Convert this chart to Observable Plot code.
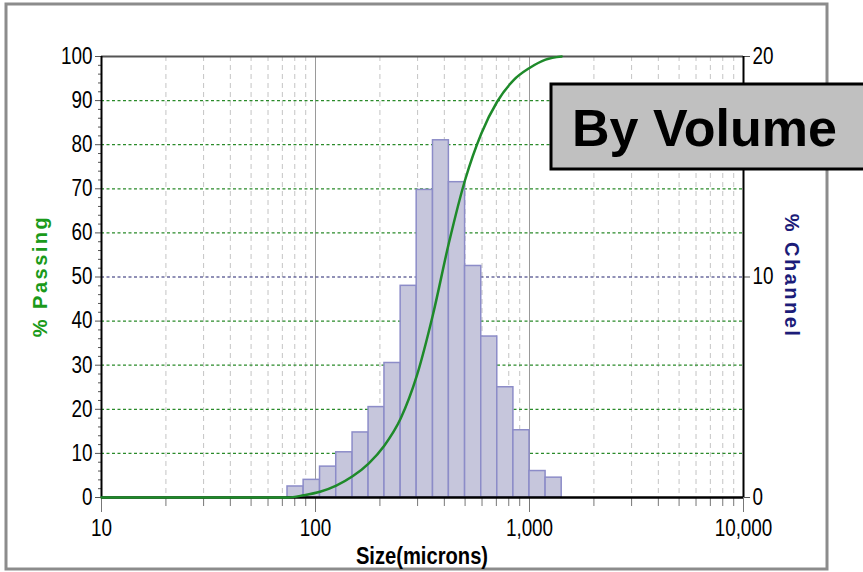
<!DOCTYPE html>
<html>
<head>
<meta charset="utf-8">
<script src="https://cdn.jsdelivr.net/npm/d3@7"></script>
<script src="https://cdn.jsdelivr.net/npm/@observablehq/plot@0.6"></script>
<style>
  html, body { margin: 0; padding: 0; background: #fff; }
  #chart { width: 863px; height: 572px; }
</style>
</head>
<body>
<div id="chart"></div>
<script>
// ---- data ----
// sieve-style bin edges (microns), ratio ~2^(1/4)
const binEdges = [74, 88, 105, 125, 149, 177, 210, 250, 297, 354, 420, 500, 595, 707, 841, 1000, 1189, 1414];
// % in each channel (right axis, 0–20)
const channelPct = [0.5, 0.8, 1.4, 2.05, 2.95, 4.1, 6.1, 9.6, 13.95, 16.2, 14.3, 10.5, 7.3, 5.0, 3.05, 1.2, 0.9];
// cumulative % passing curve (left axis)
const curveSizes = [10, 74, 88, 105, 125, 149, 177, 210, 250, 297, 354, 420, 500, 595, 707, 841, 1000, 1189, 1414];
const passingPct = [0, 0, 0.5, 1.3, 2.7, 4.8, 7.7, 11.8, 17.9, 27.5, 41.5, 57.7, 72.0, 82.5, 89.8, 94.6, 97.4, 99.3, 100];
// ticks
const xMajorTicks = [10, 100, 1000, 10000];
const xMinorTicks = [20, 30, 40, 50, 60, 70, 80, 90, 200, 300, 400, 500, 600, 700, 800, 900, 2000, 3000, 4000, 5000, 6000, 7000, 8000, 9000];
const leftTicks = [0, 10, 20, 30, 40, 50, 60, 70, 80, 90, 100];
const rightTicks = [0, 10, 20];
const greenGrid = [10, 20, 30, 40, 60, 70, 80, 90];
const blueGrid = [50];

const RIGHT_MAX = 20, LEFT_MAX = 100;
const toLeft = v => v * LEFT_MAX / RIGHT_MAX;

const bars = channelPct.map((v, i) => ({x1: binEdges[i], x2: binEdges[i + 1], y: toLeft(v)}));
const curve = curveSizes.map((s, i) => ({x: s, y: passingPct[i]}));

const fnt = "'Liberation Sans', Arial, sans-serif";

const plot = Plot.plot({
  width: 863,
  height: 572,
  marginLeft: 101,
  marginRight: 120,
  marginTop: 56,
  marginBottom: 75,
  style: {fontFamily: fnt, fontSize: "23px", background: "transparent", color: "#000"},
  x: {type: "log", domain: [10, 10000], axis: null},
  y: {domain: [0, 100], axis: null},
  marks: [
    Plot.ruleX(xMinorTicks, {stroke: "#c4c4c4", strokeDasharray: "5,4", strokeWidth: 1}),
    Plot.ruleX([100, 1000], {stroke: "#9a9a9a", strokeWidth: 1}),
    Plot.ruleY(greenGrid, {stroke: "#2a8a2a", strokeDasharray: "3,2.5", strokeWidth: 1.2}),
    Plot.ruleY(blueGrid, {stroke: "#22226e", strokeDasharray: "3,2.5", strokeWidth: 1.2}),
    Plot.ruleY([100], {stroke: "#555", strokeWidth: 2}),
    Plot.rectY(bars, {x1: "x1", x2: "x2", y: "y", fill: "#c6c6dc", stroke: "#8c8cc8", strokeWidth: 1.5}),
    // axes
    Plot.axisX(xMinorTicks, {anchor: "bottom", tickSize: 9, text: null, stroke: "#777", label: null}),
    Plot.axisX(xMajorTicks, {anchor: "bottom", tickSize: 15, tickPadding: 7, tickFormat: d3.format(","), stroke: "#777", fontSize: 23, label: null}),
    Plot.axisY(d3.range(2, 100, 2).filter(d => d % 10 !== 0), {anchor: "left", tickSize: 3, text: null, stroke: "#555", label: null}),
    Plot.axisY(leftTicks, {anchor: "left", tickSize: 6, tickPadding: 3, stroke: "#555", fontSize: 23, label: null}),
    Plot.axisY(rightTicks.map(toLeft), {anchor: "right", tickSize: 6, tickPadding: 3, tickFormat: d => d * RIGHT_MAX / LEFT_MAX, stroke: "#555", fontSize: 23, label: null}),
    Plot.ruleX([10], {stroke: "#000", strokeWidth: 2}),
    Plot.ruleX([10000], {stroke: "#000", strokeWidth: 2}),
    Plot.ruleY([0], {stroke: "#000", strokeWidth: 2.5}),
    Plot.line(curve, {x: "x", y: "y", stroke: "#1e8a2a", strokeWidth: 2.5, curve: "monotone-x"})
  ]
});

document.getElementById("chart").appendChild(plot);

const svg = d3.select(plot);

// narrow a text (reference uses a condensed face) while keeping its anchor/position
function narrow(el, k) {
  const w = el.getComputedTextLength();
  if (w > 0) {
    el.setAttribute("textLength", (w * k).toFixed(2));
    el.setAttribute("lengthAdjust", "spacingAndGlyphs");
  }
}
svg.selectAll('g[aria-label$="tick label"] text').each(function () { narrow(this, 0.82); });

// outer frame
svg.insert("rect", ":first-child")
  .attr("x", 6).attr("y", 4).attr("width", 821).attr("height", 565)
  .attr("fill", "#fff").attr("stroke", "#8c8c8c").attr("stroke-width", 3);

// axis titles
svg.append("text")
  .attr("transform", "translate(47,276) rotate(-90)")
  .attr("text-anchor", "middle")
  .attr("font-family", fnt)
  .attr("font-weight", "bold").attr("font-size", 20).attr("letter-spacing", 2.5)
  .attr("fill", "#1a9a1a")
  .text("% Passing");
svg.append("text")
  .attr("transform", "translate(785,276) rotate(90)")
  .attr("text-anchor", "middle")
  .attr("font-family", fnt)
  .attr("font-weight", "bold").attr("font-size", 20).attr("letter-spacing", 2.5)
  .attr("fill", "#1c1c78")
  .text("% Channel");
const sz = svg.append("text")
  .attr("x", 422).attr("y", 564)
  .attr("text-anchor", "middle")
  .attr("font-family", fnt)
  .attr("font-weight", "bold").attr("font-size", 24)
  .attr("fill", "#000")
  .text("Size(microns)");
narrow(sz.node(), 0.84);

// "By Volume" label box
svg.append("rect")
  .attr("x", 551).attr("y", 84).attr("width", 330).attr("height", 85)
  .attr("fill", "#c0c0c0").attr("stroke", "#000").attr("stroke-width", 3);
svg.append("text")
  .attr("x", 572).attr("y", 146)
  .attr("text-anchor", "start")
  .attr("font-family", fnt)
  .attr("font-weight", "bold").attr("font-size", 52)
  .attr("fill", "#000")
  .text("By Volume");
</script>
</body>
</html>
